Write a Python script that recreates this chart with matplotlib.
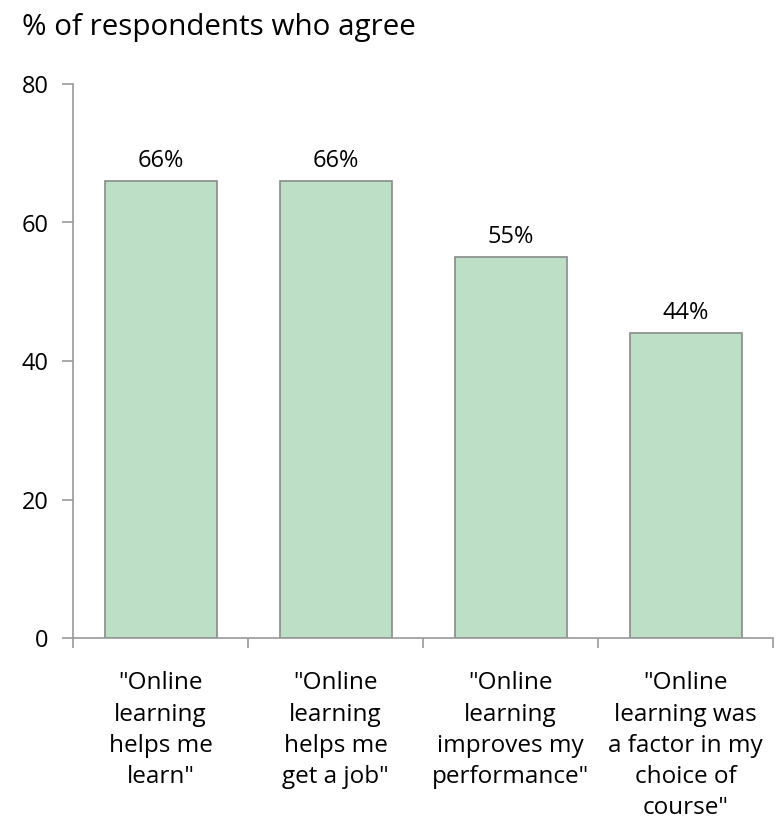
import matplotlib.pyplot as plt
import numpy as np

plt.rcParams['font.family'] = ['Open Sans', 'DejaVu Sans']

categories = ['"Online\nlearning\nhelps me\nlearn"',
              '"Online\nlearning\nhelps me\nget a job"',
              '"Online\nlearning\nimproves my\nperformance"',
              '"Online\nlearning was\na factor in my\nchoice of\ncourse"']
values = [66, 66, 55, 44]
labels = ['66%', '66%', '55%', '44%']

fig = plt.figure(figsize=(7.81, 8.22), dpi=100)
ax = fig.add_axes([73 / 781, (822 - 638) / 822, 700 / 781, (638 - 84) / 822])

x = np.arange(len(values))
bars = ax.bar(x, values, width=0.64, color='#bddfc5', edgecolor='#8a8a8a', linewidth=1.2)
for b, lab in zip(bars, labels):
    ax.text(b.get_x() + b.get_width() / 2, b.get_height() + 2.0, lab,
            ha='center', va='baseline', fontsize=17)

ax.set_xlim(-0.5, len(values) - 0.5)
ax.set_ylim(0, 80)
ax.set_yticks([0, 20, 40, 60, 80])
ax.set_xticks(np.arange(-0.5, len(values)), minor=False)
ax.set_xticklabels([])
ax.set_xticks(x, minor=True)
ax.set_xticklabels(categories, minor=True, fontsize=17.5, linespacing=1.4, va='top')
ax.tick_params(axis='x', which='minor', length=0, pad=24)
ax.tick_params(axis='x', which='major', length=7, color='#999999', width=1.2)
ax.tick_params(axis='y', length=8, color='#999999', width=1.2, pad=9.5, labelsize=17)

for s in ['top', 'right']:
    ax.spines[s].set_visible(False)
for s in ['left', 'bottom']:
    ax.spines[s].set_color('#999999')
    ax.spines[s].set_linewidth(1.2)

fig.text(22 / 781, 1 - 35 / 822, '% of respondents who agree', fontsize=21.3, va='baseline', ha='left')

fig.savefig('out.png', dpi=100)
